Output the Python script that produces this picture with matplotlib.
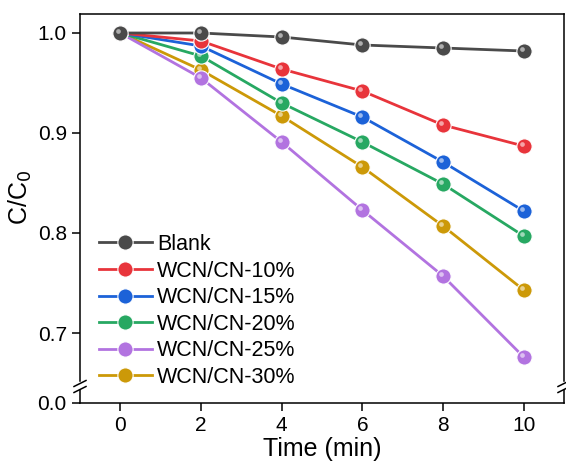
import numpy as np
import matplotlib
matplotlib.use("Agg")
import matplotlib.pyplot as plt
from matplotlib.transforms import offset_copy
from matplotlib.colors import to_rgb

plt.rcParams['font.family'] = ['Liberation Sans', 'DejaVu Sans']

# data
time_min = [0, 2, 4, 6, 8, 10]
labels = ["Blank", "WCN/CN-10%", "WCN/CN-15%", "WCN/CN-20%", "WCN/CN-25%", "WCN/CN-30%"]
blank = [1.000, 1.000, 0.996, 0.988, 0.985, 0.982]
wcn10 = [1.000, 0.992, 0.964, 0.942, 0.908, 0.887]
wcn15 = [1.000, 0.987, 0.949, 0.916, 0.871, 0.822]
wcn20 = [1.000, 0.977, 0.930, 0.891, 0.849, 0.797]
wcn25 = [1.000, 0.955, 0.891, 0.823, 0.757, 0.676]
wcn30 = [1.000, 0.963, 0.917, 0.866, 0.807, 0.743]
series = [blank, wcn10, wcn15, wcn20, wcn25, wcn30]
colors = ["#4a4a4a", "#e8343b", "#1c62d8", "#27a862", "#b273e0", "#cc9908"]

W, H = 566, 466
fig = plt.figure(figsize=(W / 100, H / 100), dpi=100)

def fx(px):
    return px / W

def fy(py):
    return 1 - py / H

left, right = 80, 564
top, brk_top, brk_bot, bottom = 14, 381, 390, 403
ax = fig.add_axes([fx(left), fy(brk_top), fx(right) - fx(left), fy(top) - fy(brk_top)])
axb = fig.add_axes([fx(left), fy(bottom), fx(right) - fx(left), fy(brk_bot) - fy(bottom)])

xlim = (-1, 11)
ax.set_xlim(xlim)
axb.set_xlim(xlim)
ax.set_ylim(0.652, 1.019)
axb.set_ylim(0, 0.013)

hl = offset_copy(ax.transData, fig=fig, x=-2, y=2, units='dots')
handles = []
# draw in reverse so Blank ends up on top, like the reference
for i in range(len(series))[::-1]:
    c = colors[i]
    line, = ax.plot(time_min, series[i], '-', color=c, lw=2.0, marker='o', ms=11,
                    mfc=c, mec='white', mew=0.8, label=labels[i], zorder=3 + (5 - i) * 0.1)
    light = tuple(0.45 * np.array(to_rgb(c)) + 0.55)
    ax.plot(time_min, series[i], 'o', ms=3.4, mfc=light, mec='none', transform=hl,
            zorder=3.05 + (5 - i) * 0.1)
    handles.append(line)
handles = handles[::-1]

ax.spines['bottom'].set_visible(False)
axb.spines['top'].set_visible(False)
for a in (ax, axb):
    for s in a.spines.values():
        s.set_linewidth(1.1)
    a.tick_params(direction='out', length=6, width=1.1, labelsize=15)
ax.tick_params(axis='x', bottom=False, labelbottom=False)
ax.set_yticks([0.7, 0.8, 0.9, 1.0])
ax.set_yticklabels(["0.7", "0.8", "0.9", "1.0"])
axb.set_yticks([0.0])
axb.set_yticklabels(["0.0"])
axb.set_xticks([0, 2, 4, 6, 8, 10])
axb.set_xlabel("Time (min)", fontsize=18, labelpad=1)
ax.set_ylabel("C/C$_0$", fontsize=18)
ax.yaxis.set_label_coords(-0.095, 0.5)

# axis break marks
for xb in (left, right):
    for yb in (383.5, 389.5):
        fig.add_artist(plt.Line2D([fx(xb - 6), fx(xb + 6)], [fy(yb + 3), fy(yb - 3)],
                                  color='black', lw=1.1))

ax.legend(handles, labels, loc='upper left', bbox_to_anchor=(fx(99), fy(234)),
          bbox_transform=fig.transFigure, frameon=False, fontsize=15.5,
          handlelength=2.45, handletextpad=0.25, labelspacing=0.26,
          borderpad=0, borderaxespad=0)

fig.savefig("out.png", dpi=100)
